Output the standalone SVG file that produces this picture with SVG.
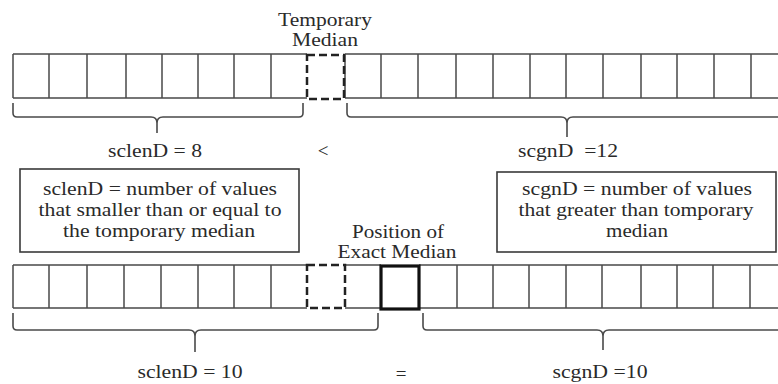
<svg xmlns="http://www.w3.org/2000/svg" width="778" height="384" viewBox="0 0 778 384" font-family="'Liberation Serif', 'DejaVu Serif', serif">
<style>
text{font-size:19px;fill:#2a2a2a;text-anchor:middle}
.cell{fill:none;stroke:#4a4a4a;stroke-width:1.5}
.dash{fill:none;stroke:#222;stroke-width:2.5;stroke-dasharray:8 4}
.bold{fill:none;stroke:#111;stroke-width:3.2}
.box{fill:#fff;stroke:#3a3a3a;stroke-width:1.6}
.brace{fill:none;stroke:#4a4a4a;stroke-width:1.6}
</style>
<rect width="778" height="384" fill="#fff"/>

<g id="top-array">
<path class="cell" d="M13,54 H307 M13,98 H307 M13,54 V98 M49,54 V98 M87,54 V98 M126,54 V98 M162,54 V98 M198,54 V98 M234,54 V98 M271,54 V98"/>
<path class="cell" d="M345,54 H778 M345,98 H778 M345,54 V98 M381,54 V98 M418,54 V98 M456,54 V98 M493,54 V98 M530,54 V98 M566,54 V98 M603,54 V98 M641,54 V98 M677,54 V98 M714,54 V98 M751,54 V98"/>
</g>
<g id="top-temporary-median">
<rect class="dash" x="307" y="55" width="37" height="44"/>
<text x="325" y="26" textLength="94" lengthAdjust="spacingAndGlyphs">Temporary</text>
<text x="325" y="46" textLength="66" lengthAdjust="spacingAndGlyphs">Median</text>
</g>

<g id="bottom-array">
<path class="cell" d="M13,265 H307 M13,308 H307 M13,265 V308 M49,265 V308 M87,265 V308 M124,265 V308 M161,265 V308 M198,265 V308 M234,265 V308 M271,265 V308"/>
<path class="cell" d="M345,265 H381 M345,308 H381 M419,265 H778 M419,308 H778 M457,265 V308 M493,265 V308 M529,265 V308 M566,265 V308 M602,265 V308 M641,265 V308 M677,265 V308 M713,265 V308 M750,265 V308"/>
</g>
<g id="bottom-temporary-median">
<rect class="dash" x="307" y="265" width="38" height="43"/>
</g>
<g id="exact-median">
<rect class="bold" x="381" y="266" width="38" height="43"/>
<text x="398" y="238" textLength="92" lengthAdjust="spacingAndGlyphs">Position of</text>
<text x="397" y="258" textLength="119" lengthAdjust="spacingAndGlyphs">Exact Median</text>
</g>

<g id="box-sclenD">
<rect class="box" x="20" y="169" width="279" height="83"/>
<text x="160" y="195" textLength="234" lengthAdjust="spacingAndGlyphs">sclenD = number of values</text>
<text x="160" y="216" textLength="243" lengthAdjust="spacingAndGlyphs">that smaller than or equal to</text>
<text x="159" y="237" textLength="192" lengthAdjust="spacingAndGlyphs">the tomporary median</text>
</g>
<g id="box-scgnD">
<rect class="box" x="497" y="172" width="279" height="80"/>
<text x="637" y="195" textLength="230" lengthAdjust="spacingAndGlyphs">scgnD = number of values</text>
<text x="636" y="216" textLength="235" lengthAdjust="spacingAndGlyphs">that greater than tomporary</text>
<text x="637" y="237" textLength="62" lengthAdjust="spacingAndGlyphs">median</text>
</g>

<g id="connectors">
<path class="brace" d="M13,103 V113 Q13,117 17,117 H151 Q157,117 157,123 V133 M157,123 Q157,117 163,117 H299 Q303,117 303,113 V103"/>
<path class="brace" d="M347,103 V113 Q347,117 351,117 H561 Q567,117 567,123 V137 M567,123 Q567,117 573,117 H778"/>
<path class="brace" d="M13,313 V326 Q13,330 17,330 H189 Q195,330 195,336 V352 M195,336 Q195,330 201,330 H374 Q378,330 378,326 V313"/>
<path class="brace" d="M423,313 V326 Q423,330 427,330 H597 Q603,330 603,336 V350 M603,336 Q603,330 609,330 H778"/>
</g>

<g id="labels">
<text x="155" y="157" textLength="94" lengthAdjust="spacingAndGlyphs">sclenD = 8</text>
<text x="323" y="157">&lt;</text>
<text x="568" y="157" textLength="100" lengthAdjust="spacingAndGlyphs" xml:space="preserve">scgnD  =12</text>
<text x="190" y="378" textLength="105" lengthAdjust="spacingAndGlyphs">sclenD = 10</text>
<text x="401" y="380">=</text>
<text x="600" y="378" textLength="95" lengthAdjust="spacingAndGlyphs">scgnD =10</text>
</g>
</svg>
